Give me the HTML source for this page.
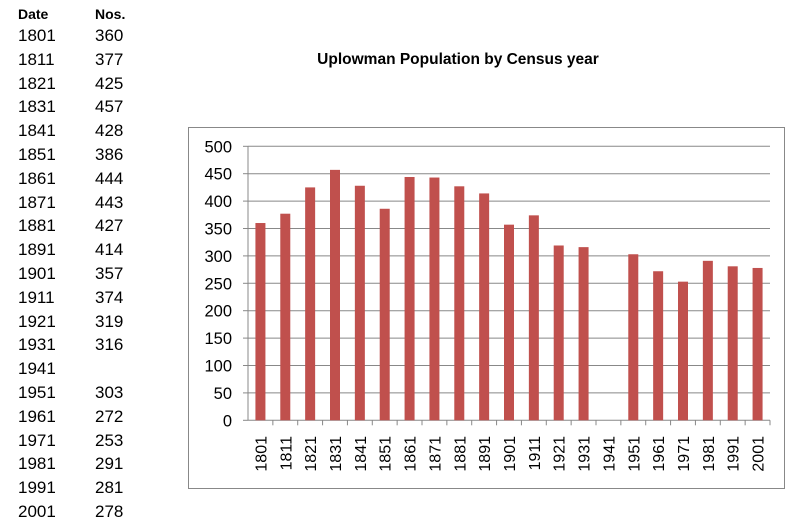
<!DOCTYPE html>
<html><head><meta charset="utf-8"><style>
body{margin:0;width:792px;height:529px;background:#fff;font-family:"Liberation Sans",Arial,sans-serif;position:relative;overflow:hidden}
.t{position:absolute;font-size:17px;color:#000}
.h{font-weight:bold;font-size:14px}
</style></head><body>
<div id="table"></div>
<div style="position:absolute;left:280px;top:51px;width:356px;text-align:center;font-weight:bold;font-size:15.5px">Uplowman Population by Census year</div>
<svg id="c" width="792" height="529" style="position:absolute;left:0;top:0"></svg>
<script>
const years=["1801","1811","1821","1831","1841","1851","1861","1871","1881","1891","1901","1911","1921","1931","1941","1951","1961","1971","1981","1991","2001"];
const values=[360,377,425,457,428,386,444,443,427,414,357,374,319,316,null,303,272,253,291,281,278];
const ticks=[0,50,100,150,200,250,300,350,400,450,500];
const tb=document.getElementById('table');
function addT(txt,x,y,cls,name){const d=document.createElement('div');d.className='t '+cls;d.style.left=x+'px';d.style.top=y+'px';d.textContent=txt;


tb.appendChild(d);}
addT('Date',18,6,'h','date-header');addT('Nos.',95,6,'h','nos-header');
years.forEach((y,i)=>{addT(y,18,26+i*23.8,'','table-year');if(values[i]!=null)addT(String(values[i]),95,26+i*23.8,'','table-value');});
const svg=document.getElementById('c');const NS='http://www.w3.org/2000/svg';
function el(t,a){const e=document.createElementNS(NS,t);for(const k in a)e.setAttribute(k,a[k]);svg.appendChild(e);return e;}
const X0=248,X1=770,Y0=420.3,Y1=146.3,VMAX=500;
const cats=years;
const n=cats.length, cw=(X1-X0)/n;
const ys=v=>Y0-(v/VMAX)*(Y0-Y1);
const xs=i=>X0+cw*(i+0.5);
let b=el('rect',{x:188.5,y:127.5,width:596,height:361,fill:'none',stroke:'#888'});


ticks.forEach(t=>{const y=ys(t);
if(t>0){const g=el('line',{x1:X0,x2:X1,y1:y,y2:y,stroke:'#888','stroke-width':1});

}
const tk=el('line',{x1:X0-5,x2:X0,y1:y,y2:y,stroke:'#888'});


const l=el('text',{x:232,y:y+6,'text-anchor':'end','font-size':16.5,fill:'#000','font-family':'Liberation Sans,Arial,sans-serif'});l.textContent=t;

});
let ax=el('line',{x1:X0,x2:X0,y1:Y1,y2:Y0,stroke:'#888'});


let ax2=el('line',{x1:X0,x2:X1,y1:Y0,y2:Y0,stroke:'#888'});


cats.forEach((c,i)=>{const tx=X0+cw*(i+1);
const tk=el('line',{x1:tx,x2:tx,y1:Y0,y2:Y0+5,stroke:'#888'});


const v=values[i];
if(v!=null){const r=el('rect',{x:xs(i)-5,y:ys(v),width:10,height:Y0-ys(v),fill:'#c0504d'});

}
const l=el('text',{x:0,y:0,'text-anchor':'end','font-size':16,fill:'#000','font-family':'Liberation Sans,Arial,sans-serif',transform:`translate(${xs(i)+6},436) rotate(-90)`});l.textContent=c;

});
</script>
</body></html>
